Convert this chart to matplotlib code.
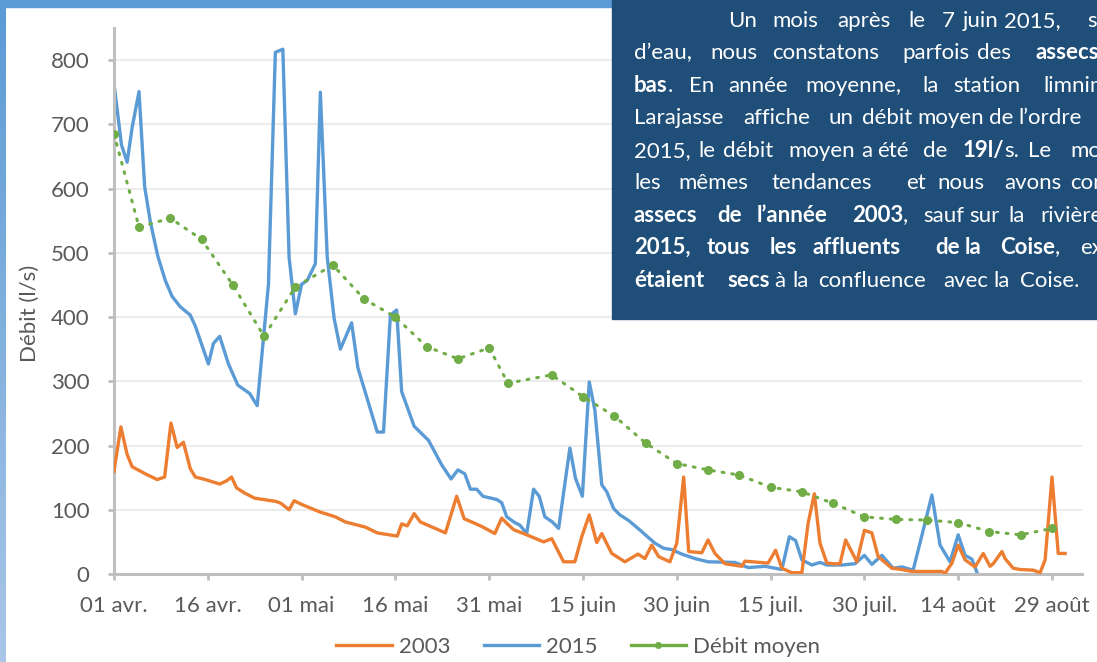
import numpy as np
import matplotlib.pyplot as plt
from matplotlib.lines import Line2D
from matplotlib.patches import Rectangle

# Débits journaliers (jour 0 = 01 avril)
days_2003 = [0, 1.1, 2.1, 2.9, 5, 6.9, 8.1, 9.1, 10.1, 11.1,
             12.2, 13, 14.6, 16.9, 18, 18.8, 19.6, 20.9, 22.5, 25.9,
             26.7, 28, 28.8, 30.1, 32.8, 35.4, 37, 40.2, 42.1, 45.3,
             46, 46.9, 48, 49, 53, 54.8, 56, 57.2, 58.8, 60.9,
             62, 62.8, 63.9, 66, 68.7, 70, 71.9, 73.7, 74.8, 76,
             77.2, 78, 79.6, 81.7, 83.8, 84.9, 86, 87.1, 88.9, 90,
             91.1, 91.9, 94, 95, 96.1, 97.7, 100.4, 100.9, 104.6, 105.8,
             106.8, 108.4, 110, 111, 112, 112.9, 114, 115, 116.1, 117,
             118.8, 120, 121.2, 122.2, 124.4, 126, 127.6, 132.4, 132.9, 134,
             135, 136.1, 137.7, 139, 140.1, 140.6, 142, 142.5, 143.8, 144.9,
             147, 148.1, 148.9, 150, 151, 152.1]
debit_2003 = [160, 229, 186, 167, 156, 147, 151, 235, 197, 205,
              164, 151, 147, 140, 145, 151, 134, 126, 118, 113,
              110, 100, 114, 108, 97, 89, 81, 73, 64, 59,
              78, 75, 94, 81, 64, 121, 86, 81, 74, 63,
              87, 79, 69, 61, 50, 55, 19, 19, 58, 92,
              49, 63, 32, 19, 31, 24, 45, 27, 19, 48,
              151, 35, 33, 53, 32, 16, 12, 20, 17, 37,
              9, 2, 2, 79, 125, 48, 17, 16, 16, 53,
              19, 68, 64, 27, 9, 7, 4, 4, 1, 17,
              45, 22, 11, 32, 12, 16, 35, 24, 9, 7,
              6, 2, 22, 151, 32, 32]

days_2015 = [0, 1.2, 2.1, 2.9, 4, 4.9, 5.8, 7, 8.2, 9.3,
             10.6, 12.2, 13, 15.1, 15.9, 16.9, 18.3, 19.8, 21.7, 22.9,
             24.7, 25.8, 27, 28, 29, 30, 30.9, 32.2, 33, 34.1,
             35.2, 36.2, 38, 39, 42.1, 43.1, 44.2, 45.2, 46, 48,
             50.3, 52.4, 53.9, 55, 56.1, 57, 58, 59, 61.2, 62,
             62.8, 64.1, 64.9, 66, 67.1, 68, 68.9, 70.1, 71.1, 72.9,
             73.8, 74.9, 76, 76.9, 78, 78.8, 79.9, 80.9, 82.2, 83.8,
             85.2, 86.5, 87.9, 89.2, 90.8, 92.9, 95, 99.3, 101.4, 104.1,
             106.8, 108, 109, 110, 111.6, 112.9, 114, 116.4, 118.5, 120,
             121.2, 122.8, 124.6, 126, 127.8, 129.4, 130.8, 132.1, 133.7, 135,
             136.1, 137.2, 138.1]
debit_2015 = [763, 668, 641, 695, 751, 603, 549, 495, 457, 432,
              416, 403, 386, 327, 359, 370, 327, 294, 281, 262,
              451, 812, 817, 493, 405, 451, 457, 483, 750, 493,
              398, 350, 391, 321, 221, 221, 403, 411, 284, 230,
              208, 170, 148, 162, 156, 132, 132, 121, 116, 111,
              89, 80, 76, 63, 132, 121, 89, 81, 71, 196,
              149, 121, 299, 255, 139, 128, 102, 92, 84, 71,
              59, 48, 40, 38, 31, 24, 19, 18, 10, 12,
              7, 58, 52, 22, 14, 18, 14, 14, 16, 29,
              15, 29, 9, 11, 6, 68, 123, 45, 19, 61,
              29, 23, 0]

days_moy = [0, 4, 9, 14, 19, 24, 29, 35, 40, 45, 50, 55, 60, 63, 70, 75,
            80, 85, 90, 95, 100, 105, 110, 115, 120, 125, 130, 135, 140, 145, 150]
debit_moy = [685, 540, 554, 521, 450, 370, 447, 481, 428, 400, 354, 335, 352, 297, 310, 276,
             246, 204, 172, 162, 154, 135, 128, 110, 89, 85, 84, 80, 66, 61, 71]

tick_days = [0, 15, 30, 45, 60, 75, 90, 105, 120, 135, 150]
tick_labels = ['01 avr.', '16 avr.', '01 mai', '16 mai', '31 mai', '15 juin',
               '30 juin', '15 juil.', '30 juil.', '14 août', '29 août']

C_2003 = '#ed7d31'
C_2015 = '#5b9bd5'
C_MOY = '#70ad47'
GREY = '#595959'

plt.rcParams['font.family'] = ['Lato', 'DejaVu Sans']

W, H = 1097, 662
fig = plt.figure(figsize=(W / 100, H / 100), dpi=100)

# cadre bleu (haut + bande dégradée à gauche)
fig.patches.append(Rectangle((0, 1 - 7 / H), 1, 7 / H, transform=fig.transFigure,
                             color='#5b9bd5', zorder=0))
band = fig.add_axes([0, 0, 6 / W, 1 - 7 / H])
grad = np.linspace(0, 1, 256).reshape(-1, 1)
top, bot = np.array([0x5b, 0x9b, 0xd5]) / 255, np.array([0xa9, 0xc6, 0xe8]) / 255
band.imshow(top + (bot - top) * grad[:, :, None], aspect='auto')
band.axis('off')

ax = fig.add_axes([114 / W, 1 - 574 / H, 968 / W, 546 / H])
ax.plot(days_2003, debit_2003, color=C_2003, lw=2.4, solid_joinstyle='round', zorder=3)
ax.plot(days_2015, debit_2015, color=C_2015, lw=2.4, solid_joinstyle='round', zorder=2)
ax.plot(days_moy, debit_moy, color=C_MOY, lw=2.2, linestyle=(0, (0.6, 2.6)),
        dash_capstyle='round', marker='o', markersize=5.5, zorder=4)

ax.set_xlim(0, 154.8)
ax.set_ylim(0, 850)
ax.set_yticks(range(0, 801, 100))
ax.set_xticks(tick_days)
ax.set_xticklabels(tick_labels)
ax.grid(axis='y', color='#ececec', lw=1.5)
ax.set_axisbelow(True)
for s in ['top', 'right']:
    ax.spines[s].set_visible(False)
for s in ['left', 'bottom']:
    ax.spines[s].set_color('#bfbfbf')
    ax.spines[s].set_linewidth(2.2)
ax.tick_params(axis='both', colors='#bfbfbf', width=2, length=4.5, labelcolor=GREY, labelsize=16)
ax.tick_params(axis='y', pad=13)
ax.tick_params(axis='x', pad=11)

fig.text(30 / W, 1 - 313 / H, 'Débit (l/s)', rotation=90, ha='center', va='center',
         fontsize=16, color=GREY)

handles = [Line2D([], [], color=C_2003, lw=2.4),
           Line2D([], [], color=C_2015, lw=2.4),
           Line2D([], [], color=C_MOY, lw=2.4, marker='o', markersize=4)]
fig.legend(handles, ['2003', '2015', 'Débit moyen'], loc='center', bbox_to_anchor=(0.527, 1 - 647 / H),
           ncol=3, frameon=False, fontsize=16, labelcolor=GREY, handlelength=2.5,
           handletextpad=0.3, columnspacing=1.5)

# encadré de commentaire
fig.patches.append(Rectangle((612 / W, 1 - 319 / H), (W - 612) / W, 319 / H,
                             transform=fig.transFigure, color='#1f4e79', zorder=5))

B = True
N = False
# texte justifié : (x du mot en pixels ou None = collé au précédent, texte, gras)
box_lines = [
    (27, [(728, 'Un', N), (772, 'mois', N), (837, 'après', N), (908, 'le', N), (942, '7', N),
          (963, 'juin', N), (998, '2015,', N), (1087, 'suite', N)]),
    (59, [(634, 'd’eau,', N), (710, 'nous', N), (772, 'constatons', N), (902, 'parfois', N),
          (977, 'des', N), (1036, 'assecs', B)]),
    (92, [(634, 'bas', B), (None, '.', N), (689, 'En', N), (728, 'année', N), (805, 'moyenne,', N),
          (922, 'la', N), (953, 'station', N), (1043, 'limnimétrique', N)]),
    (124, [(634, 'Larajasse', N), (743, 'affiche', N), (828, 'un', N), (862, 'débit', N),
           (917, 'moyen', N), (985, 'de', N), (1015, 'l’ordre', N)]),
    (157, [(634, '2015,', N), (698, 'le', N), (723, 'débit', N), (788, 'moyen', N), (861, 'a', N),
           (877, 'été', N), (923, 'de', N), (963, '19l/', B), (None, 's.', N), (1028, 'Le', N),
           (1070, 'moyen', N)]),
    (189, [(634, 'les', N), (678, 'mêmes', N), (772, 'tendances', N), (906, 'et', N),
           (937, 'nous', N), (1004, 'avons', N), (1070, 'constaté', N)]),
    (222, [(634, 'assecs', B), (717, 'de', B), (757, 'l’année', B), (852, '2003', B), (None, ',', N),
           (923, 'sauf', N), (963, 'sur', N), (1008, 'la', N), (1040, 'rivière', N)]),
    (254, [(634, '2015,', B), (707, 'tous', B), (770, 'les', B), (813, 'affluents', B),
           (935, 'de', B), (965, 'la', B), (1000, 'Coise', B), (None, ',', N), (1080, 'excepté', N)]),
    (287, [(634, 'étaient', B), (727, 'secs', B), (772, 'à', N), (792, 'la', N), (818, 'confluence', N),
           (943, 'avec', N), (993, 'la', N), (1020, 'Coise.', N)]),
]
renderer = fig.canvas.get_renderer()
for y, words in box_lines:
    end = 0
    for x, txt, bold in words:
        x = end if x is None else max(x, end + 5)
        t = fig.text(x / W, 1 - y / H, txt, color='white', fontsize=16, va='baseline', ha='left',
                     fontweight='bold' if bold else 'normal', zorder=6)
        end = x + t.get_window_extent(renderer).width

fig.savefig('out.png', dpi=100)
